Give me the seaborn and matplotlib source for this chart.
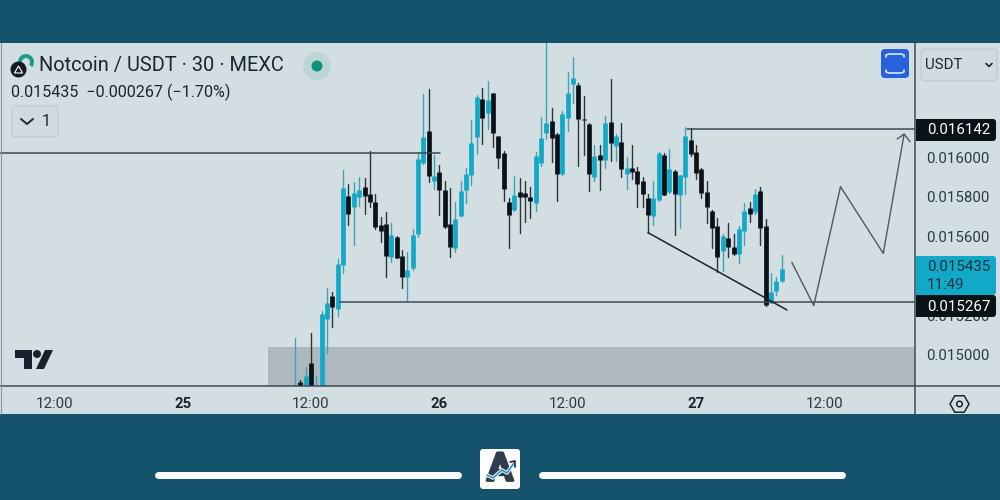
import pandas as pd
import matplotlib.pyplot as plt
import matplotlib.patheffects as pe
import seaborn as sns
from matplotlib.patches import Rectangle, FancyBboxPatch, Circle, Polygon, RegularPolygon, Wedge

# 30 min candles, prices in millionths of USDT
opens = [14800, 14865, 14830, 14958, 14800, 14830, 15183, 15298, 15234, 15455, 15805, 15746, 15798, 15850, 15813, 15774,
         15655, 15663, 15493, 15598, 15502, 15396, 15439, 15613, 15968, 16133, 15880, 15924, 15833, 15660, 15539, 15704,
         15833, 15911, 16103, 16291, 16224, 16322, 16104, 16019, 15774, 15732, 15822, 15818, 15798, 15768, 15968, 16120,
         16184, 16118, 15912, 16199, 16369, 16364, 16194, 16167, 15901, 16010, 15983, 16177, 16056, 16077, 15912, 15944,
         15931, 15877, 15791, 15702, 15781, 16010, 15823, 15931, 15810, 15899, 16084, 16025, 15939, 15822, 15729, 15653,
         15527, 15589, 15544, 15510, 15625, 15744, 15722, 15830, 15652, 15264, 15322, 15372]
highs = [15084, 14874, 14941, 15109, 14891, 15224, 15340, 15316, 15485, 15934, 15864, 15875, 15901, 15892, 16030, 15813,
         15699, 15722, 15668, 15600, 15530, 15522, 15635, 16027, 16318, 16342, 16010, 15960, 15880, 15842, 15774, 15880,
         15943, 16187, 16313, 16347, 16386, 16325, 16106, 16030, 15791, 15904, 15892, 15880, 15850, 16024, 16200, 16600,
         16246, 16120, 16231, 16431, 16507, 16372, 16308, 16170, 16059, 16061, 16207, 16394, 16114, 16173, 15998, 16059,
         15948, 15897, 15813, 15877, 16025, 16022, 16040, 15933, 15909, 16153, 16145, 16059, 15943, 15879, 15731, 15690,
         15611, 15668, 15611, 15652, 15769, 15771, 15837, 15847, 15685, 15416, 15392, 15503]
lows = [14790, 14820, 14820, 14820, 14790, 14820, 15008, 15143, 15197, 15412, 15657, 15556, 15754, 15710, 15749, 15635,
        15572, 15392, 15471, 15488, 15338, 15274, 15429, 15594, 15965, 15875, 15838, 15707, 15640, 15497, 15519, 15702,
        15766, 15859, 16015, 16066, 16141, 16049, 15944, 15779, 15539, 15727, 15618, 15673, 15694, 15729, 15955, 16091,
        15976, 15778, 15910, 16133, 16271, 15955, 16010, 15830, 15877, 15833, 15946, 15981, 15981, 15901, 15838, 15887,
        15746, 15749, 15618, 15657, 15779, 15806, 15820, 15606, 15640, 15813, 16007, 15889, 15793, 15668, 15542, 15421,
        15426, 15497, 15507, 15463, 15556, 15670, 15712, 15556, 15249, 15261, 15301, 15369]
closes = [14830, 14830, 14896, 14830, 14810, 15207, 15264, 15244, 15460, 15845, 15712, 15816, 15835, 15803, 15771, 15648,
          15628, 15502, 15608, 15492, 15396, 15428, 15608, 15990, 16101, 15904, 15904, 15835, 15648, 15544, 15687, 15830,
          15912, 16072, 16303, 16199, 16286, 16123, 15997, 15838, 15709, 15806, 15798, 15798, 15778, 16005, 16098, 16172,
          16098, 15912, 16217, 16325, 16401, 16194, 16189, 15912, 16003, 15985, 16173, 16072, 16106, 15939, 15944, 15926,
          15862, 15811, 15709, 15791, 16022, 15808, 15939, 15811, 15907, 16104, 16013, 15918, 15820, 15746, 15641, 15493,
          15603, 15544, 15510, 15635, 15729, 15710, 15811, 15641, 15251, 15318, 15372, 15435]

# hand drawn levels and paths on the chart (candle number, price)
res_left = [-56, 27.1], [0.016022, 0.016022]
res_right = [73.3, 116], [0.016142, 0.016142]
support = [8.4, 116], [0.015267, 0.015267]
wedge_line = [66, 92], [0.015618, 0.015227]
path_x = [92.9, 97, 102, 110, 113.9]
path_y = [0.015468, 0.015249, 0.015850, 0.015513, 0.016116]
head_x = [112.6, 113.9, 115]
head_y = [0.016091, 0.016116, 0.016077]
zone_left = -5.05
zone_top = 0.015040

price_ticks = [0.0150, 0.0152, 0.0156, 0.0158, 0.0160]
time_ticks = [-45, -21, 3, 27, 51, 75, 99]
time_labels = ['12:00', '25', '12:00', '26', '12:00', '27', '12:00']

DARK = '#14536b'
PANEL = '#d2dee2'
LINE = '#3c4a52'
INK = '#1b2730'
TEAL = '#12a8c8'
BLACK = '#0a1217'

sns.set_theme(style='white')
plt.rcParams['font.family'] = ['Roboto', 'DejaVu Sans']

df = pd.DataFrame({'candle': range(len(opens)), 'open': opens, 'high': highs, 'low': lows, 'close': closes})
df[['open', 'high', 'low', 'close']] = df[['open', 'high', 'low', 'close']] / 1e6
df['side'] = ['up' if c >= o else 'down' for o, c in zip(df['open'], df['close'])]

# one vertical two point line per candle
wicks = df.melt(id_vars=['candle', 'side'], value_vars=['low', 'high'], value_name='price')
bodies = df.melt(id_vars=['candle', 'side'], value_vars=['open', 'close'], value_name='price')

fig = plt.figure(figsize=(10, 5), dpi=100, facecolor=DARK)
bg = fig.add_axes([0, 0, 1, 1], zorder=0)
bg.set_xlim(0, 1000)
bg.set_ylim(500, 0)
bg.axis('off')
bg.add_patch(Rectangle((0, 43), 1000, 371, color=PANEL, lw=0))

ax = fig.add_axes([0, 114 / 500, 0.915, 343 / 500], zorder=1)
ax.patch.set_alpha(0)
ax.add_patch(Rectangle((zone_left, 0.0148), 200, zone_top - 0.0148, color='#aeb8bf', lw=0, zorder=0))
sns.lineplot(data=wicks, x='candle', y='price', units='candle', hue='side', estimator=None, sort=False,
             palette={'up': '#3fa3b6', 'down': '#2b363c'}, linewidth=1.0, legend=False, ax=ax, zorder=2)
sns.lineplot(data=bodies, x='candle', y='price', units='candle', hue='side', estimator=None, sort=False,
             palette={'up': TEAL, 'down': BLACK}, linewidth=3.4, solid_capstyle='butt', legend=False, ax=ax, zorder=3)

for xs, ys in [res_left, res_right, support]:
    ax.plot(xs, ys, color=LINE, lw=1.1, zorder=4)
ax.plot(*wedge_line, color='#1a252c', lw=1.1, zorder=4)
ax.plot(path_x, path_y, color='#4d5a62', lw=1.0, zorder=4)
ax.plot(head_x, head_y, color='#4d5a62', lw=1.0, zorder=4)

ax.set_xlim(-55.16, 115.93)
ax.set_ylim(0.014843, 0.016576)
ax.set_xlabel('')
ax.set_ylabel('')
ax.yaxis.tick_right()
ax.set_yticks(price_ticks, [f'{p:.6f}' for p in price_ticks])
ax.set_xticks(time_ticks, time_labels)
ax.tick_params(axis='y', length=0, pad=8, labelsize=10.8, labelcolor='#2c3a43')
ax.tick_params(axis='x', length=0, pad=8.2, labelsize=10.8, labelcolor='#2c3a43')
for lab in ax.get_xticklabels():
    if ':' not in lab.get_text():
        lab.set_fontweight('bold')
        lab.set_color(INK)
sns.despine(ax=ax, top=True, right=True, left=True, bottom=True)

# everything round the plot: panels, tags, header, logos
ui = fig.add_axes([0, 0, 1, 1], zorder=2)
ui.set_xlim(0, 1000)
ui.set_ylim(500, 0)
ui.axis('off')
ui.plot([915, 915], [43, 414], color=LINE, lw=1.1)
ui.plot([0, 1000], [386, 386], color=LINE, lw=1.1)
ui.plot([0.8, 0.8], [43, 414], color='#8a979e', lw=0.8)

# top price label, nearly all of it hidden by the currency box
ui.text(926, 82, '0.016400', fontsize=10.8, color='#2c3a43', va='center', zorder=1)
ui.add_patch(Rectangle((916, 43), 84, 44, color=PANEL, lw=0, zorder=1.5))
ui.add_patch(FancyBboxPatch((921, 49), 76, 32, boxstyle='round,pad=0,rounding_size=4', fc='#cfdbe0', ec='#bcc9ce', lw=0.8, zorder=2))
ui.text(925, 65, 'USDT', fontsize=10.8, color=INK, va='center', zorder=3)
ui.plot([986, 989, 992], [63.5, 66.5, 63.5], color=INK, lw=1.2, zorder=3)

def tag(y0, y1, color):
    ui.add_patch(FancyBboxPatch((916, y0), 80, y1 - y0, boxstyle='round,pad=0,rounding_size=3', fc=color, ec='none', zorder=3))
    ui.add_patch(Rectangle((916, y0), 6, y1 - y0, color=color, lw=0, zorder=3))

tag(119, 141, BLACK)
ui.text(927, 130.5, '0.016142', fontsize=10.8, color='white', va='center', zorder=4)
tag(256, 295, TEAL)
ui.text(927, 267, '0.015435', fontsize=10.8, color='#12323f', va='center', zorder=4)
ui.text(927, 285, '11:49', fontsize=10.8, color='#12323f', va='center', zorder=4)
tag(295, 317, BLACK)
ui.text(927, 307, '0.015267', fontsize=10.8, color='white', va='center', zorder=4)

ui.text(39, 66, 'Notcoin / USDT · 30 · MEXC', fontsize=14.45, color=INK, va='center')
ui.text(11, 92, '0.015435  −0.000267 (−1.70%)', fontsize=11.65, color=INK, va='center')
ui.add_patch(Wedge((26, 62), 8, 150, 400, width=4, color='#1c9c8c', lw=0))
ui.add_patch(Circle((18.5, 69.5), 8, color='#141c22', lw=0))
ui.add_patch(Polygon([(14.5, 73), (18.5, 66), (22.5, 73)], closed=True, fc='none', ec='white', lw=0.8))
ui.add_patch(Circle((317, 66), 14, color='#bcd5d6', lw=0))
ui.add_patch(Circle((317, 66), 5.5, color='#0f9279', lw=0))

ui.add_patch(FancyBboxPatch((12, 106), 46, 31, boxstyle='round,pad=0,rounding_size=3', fc='#cfdbe0', ec='#bcc9ce', lw=0.8))
ui.plot([21, 27, 33], [119, 124, 119], color=INK, lw=1.4)
ui.text(42, 121, '1', fontsize=11.5, color=INK, va='center')

ui.add_patch(FancyBboxPatch((881, 49), 28, 29, boxstyle='round,pad=0,rounding_size=4', fc='#2761dc', ec='none'))
ui.plot([886, 886, 889, 901, 904, 904], [57, 55, 54, 54, 55, 57], color='#dbe6f5', lw=1.2)
ui.plot([886, 886, 889, 901, 904, 904], [70, 72, 73, 73, 72, 70], color='#dbe6f5', lw=1.2)

# tradingview mark
ui.add_patch(Polygon([(15, 350), (32, 350), (32, 369), (24, 369), (24, 358), (15, 358)], closed=True, color='#18222c', lw=0))
ui.add_patch(Circle((37, 354), 4, color='#18222c', lw=0))
ui.add_patch(Polygon([(45, 350), (53, 350), (44, 369), (36, 369)], closed=True, color='#18222c', lw=0))

ui.add_patch(RegularPolygon((959.5, 404), 6, radius=9.5, orientation=1.5708, fc='none', ec=INK, lw=1.1))
ui.add_patch(Circle((959.5, 404), 2.8, fc='none', ec=INK, lw=1.1))

# bottom bars and app badge
ui.plot([158, 458], [475, 475], color='white', lw=5, solid_capstyle='round')
ui.plot([542, 842], [475, 475], color='white', lw=5, solid_capstyle='round')
ui.add_patch(FancyBboxPatch((480, 449), 40, 40, boxstyle='round,pad=0,rounding_size=3', fc='white', ec='none'))
ui.text(500, 470, 'A', fontsize=28, fontweight='bold', color='#2f3d4d', ha='center', va='center',
        path_effects=[pe.withStroke(linewidth=2, foreground='#2f3d4d')])
trend_x = [487, 493, 502, 507, 514]
trend_y = [475, 478, 470, 473, 463]
ui.plot(trend_x, trend_y, color='white', lw=2.6, zorder=3)
ui.plot(trend_x, trend_y, color='#2a8fd0', lw=1.2, zorder=3)
ui.plot([510, 515, 515], [462, 461, 467], color='#1b2730', lw=1.2, zorder=3)

fig.savefig('out.png', dpi=100, facecolor=DARK)
